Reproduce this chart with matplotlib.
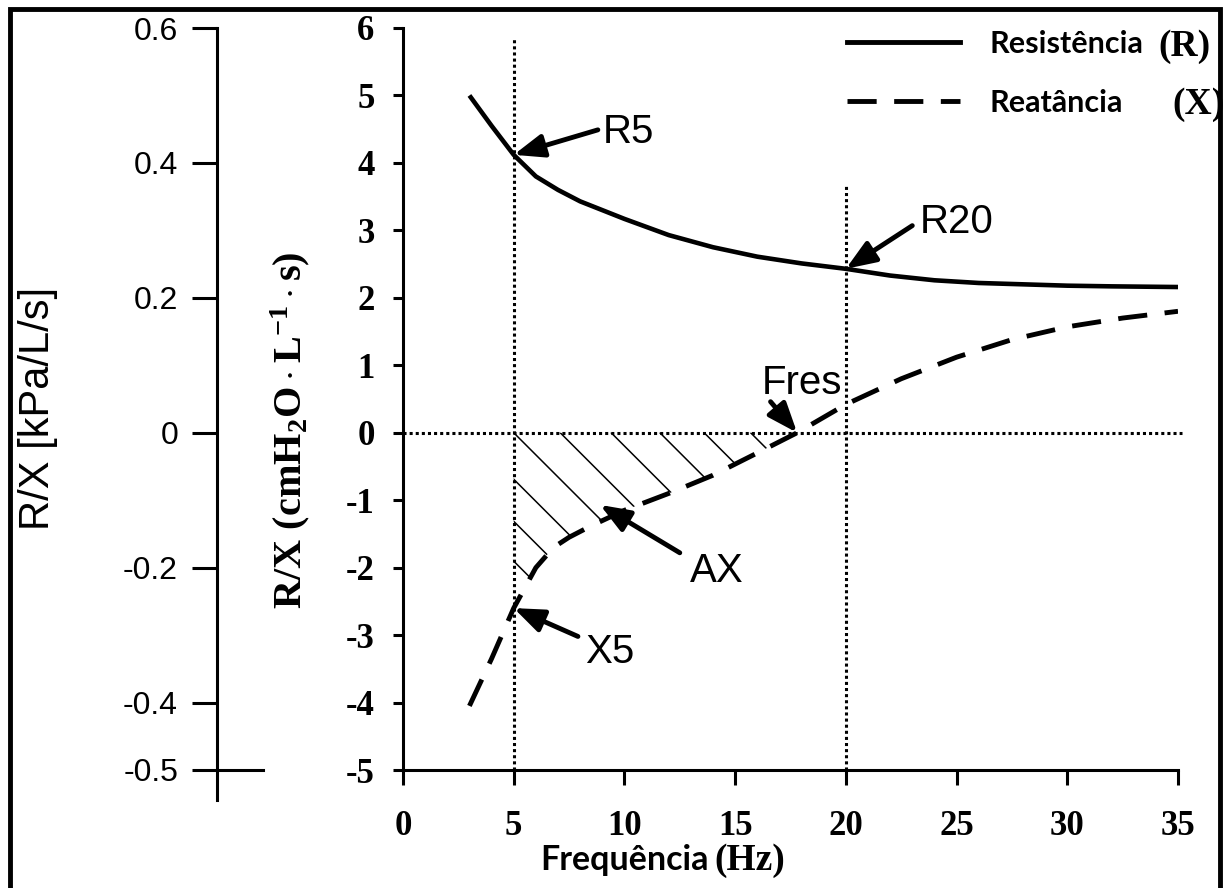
import numpy as np
import matplotlib
matplotlib.use("Agg")
import matplotlib.pyplot as plt
from matplotlib.lines import Line2D
from matplotlib.patches import Rectangle

plt.rcParams['axes.unicode_minus'] = False
plt.rcParams['mathtext.fontset'] = 'custom'
plt.rcParams['mathtext.rm'] = 'Liberation Serif:bold'
plt.rcParams['mathtext.bf'] = 'Liberation Serif:bold'
plt.rcParams['mathtext.it'] = 'Liberation Serif:bold:italic'

# resistance curve (cmH2O/L/s)
freq_r = [3, 4, 5, 6, 7, 8, 10, 12, 14, 16, 18, 20, 22, 24, 26, 28, 30, 32, 35]
resist = [5.0, 4.55, 4.12, 3.8, 3.6, 3.43, 3.17, 2.93, 2.75, 2.61, 2.51, 2.43,
          2.33, 2.26, 2.22, 2.2, 2.18, 2.17, 2.16]

# reactance curve
freq_x = [3, 4, 5, 6, 6.8, 7.5, 8.5, 10, 12, 14, 16, 17.8, 20, 22.5, 25, 27.5,
          30, 32.5, 35]
reat = [-4.05, -3.35, -2.6, -2.0, -1.7, -1.55, -1.38, -1.15, -0.9, -0.63, -0.3,
        0.0, 0.42, 0.8, 1.12, 1.38, 1.57, 1.7, 1.8]
fres = 17.8

xticks = [0, 5, 10, 15, 20, 25, 30, 35]
yticks = [6, 5, 4, 3, 2, 1, 0, -1, -2, -3, -4, -5]
kpa_ticks = [0.6, 0.4, 0.2, 0, -0.2, -0.4, -0.5]
kpa_labels = ['0.6', '0.4', '0.2', '0', '-0.2', '-0.4', '-0.5']

# hatch line starts on the zero line (Hz)
hatch_x0 = [-0.8, 1.0, 2.9, 5.0, 7.1, 9.4, 11.6, 13.6, 15.7]

ann_labels = ['R5', 'R20', 'Fres', 'AX', 'X5']
ann_tip = [(5, 4.12), (20, 2.43), (17.8, 0.0), (8.9, -1.07), (5, -2.6)]
ann_tail = [(8.8, 4.49), (23.0, 3.07), (16.6, 0.46), (12.5, -1.78), (7.9, -3.02)]
ann_text = [(9.0, 4.46), (23.35, 3.13), (18.0, 0.74), (12.96, -2.05), (8.22, -3.25)]
ann_ha = ['left', 'left', 'center', 'left', 'left']

W, H = 1227, 888


def fx(px):
    return px / W


def fy(py):
    return 1 - py / H


fig = plt.figure(figsize=(W / 100, H / 100), dpi=100)

# main axes: x 0..35 at px 403..1178, y -5..6 at px 770..28
ax = fig.add_axes([fx(403), fy(770), (1178 - 403) / W, (770 - 28) / H])
ax.set_xlim(0, 35)
ax.set_ylim(-5, 6)
ax.patch.set_alpha(0)
for s in ['top', 'right']:
    ax.spines[s].set_visible(False)
for s in ['left', 'bottom']:
    ax.spines[s].set_linewidth(2.2)

serif_b = dict(family='Liberation Serif', weight='bold')
ax.set_xticks(xticks)
ax.set_xticklabels([str(v) for v in xticks], fontsize=25, **serif_b)
ax.set_yticks(yticks)
ax.set_yticklabels([str(v) for v in yticks], fontsize=25, **serif_b)
ax.tick_params(axis='x', length=11, width=2.2, pad=18)
ax.tick_params(axis='y', length=7.5, width=2.2, pad=13)

# reference dotted lines
dot = (0, (1, 1))
ax.vlines(5, -5, 5.85, colors='k', linestyles=dot, lw=2.2)
ax.vlines(20, -5, 3.67, colors='k', linestyles=dot, lw=2.2)
ax.hlines(0, 0, 35.2, colors='k', linestyles=dot, lw=2.2, clip_on=False)

ax.plot(freq_r, resist, color='k', lw=3.3, solid_capstyle='butt')
ax.plot(freq_x, reat, color='k', lw=3.5, dashes=(6, 3.6))

# hatched area between X and zero, from 5 Hz to Fres
fx_arr = np.array(freq_x)
poly = ax.fill_between(freq_x, reat, 0, where=(fx_arr >= 5) & (fx_arr <= fres),
                       facecolor='none', edgecolor='none')
clip = poly.get_paths()[0]
k = ((1178 - 403) / 35) / ((770 - 28) / 11)
for x0 in hatch_x0:
    ln, = ax.plot([x0, x0 + 14], [0, -k * 14], color='k', lw=1.1)
    ln.set_clip_path(clip, ax.transData)

for lab, tip, tail, tp, ha in zip(ann_labels, ann_tip, ann_tail, ann_text, ann_ha):
    ax.annotate('', xy=tip, xytext=tail,
                arrowprops=dict(arrowstyle='-|>,head_length=0.9,head_width=0.35',
                                lw=3.5, color='k', mutation_scale=20,
                                shrinkA=0, shrinkB=0))
    ax.text(tp[0], tp[1], lab, fontsize=29, family='Liberation Sans',
            ha=ha, va='center')

leg = ax.legend(handles=[Line2D([], [], color='k', lw=3.5),
                         Line2D([], [], color='k', lw=3.5, dashes=(6, 3.6))],
                labels=['Resistência', 'Reatância'],
                loc='upper left', bbox_to_anchor=(fx(847), fy(30)),
                bbox_transform=fig.transFigure, frameon=False,
                borderpad=0, borderaxespad=0, handlelength=3.7,
                handletextpad=0.95, labelspacing=1.0,
                prop=dict(family='Lato', weight='bold', size=22))
fig.text(fx(1158), fy(47), '(R)', fontsize=27, ha='left', va='center', **serif_b)
fig.text(fx(1172), fy(104), '(X)', fontsize=27, ha='left', va='center', **serif_b)

# secondary kPa axis on the left
ax2 = fig.add_axes([fx(217), fy(800), 100 / W, (800 - 28) / H])
ax2.set_ylim(-0.5 - 30 / 674.5, 0.6)
ax2.set_xlim(0, 1)
ax2.patch.set_alpha(0)
for s in ['top', 'right', 'bottom']:
    ax2.spines[s].set_visible(False)
ax2.spines['left'].set_linewidth(2.2)
ax2.set_xticks([])
ax2.set_yticks(kpa_ticks)
ax2.set_yticklabels(kpa_labels, fontsize=23, family='Liberation Sans')
ax2.tick_params(axis='y', length=18, width=2.2, pad=10)
ax2.axhline(-0.5, 0, 0.46, color='k', lw=2.2)

fig.text(fx(38), fy(408), 'R/X [kPa/L/s]', rotation=90, fontsize=30,
         family='Liberation Sans', ha='center', va='center')
fig.text(fx(290), fy(430), r'$\mathrm{R/X\ (cmH_2O\cdot L^{-1}\cdot s)}$',
         rotation=90, fontsize=29, ha='center', va='center')
fig.text(fx(540), fy(860), 'Frequência', fontsize=24.5, family='Lato',
         weight='bold', ha='left', va='center')
fig.text(fx(714), fy(860), '(Hz)', fontsize=27, ha='left', va='center', **serif_b)

# border frame
fig.patches.append(Rectangle((fx(10), -0.1), fx(1220) - fx(10), fy(9) + 0.1,
                             transform=fig.transFigure, fill=False,
                             lw=3.5, ec='k'))

fig.savefig('out.png', dpi=100)
